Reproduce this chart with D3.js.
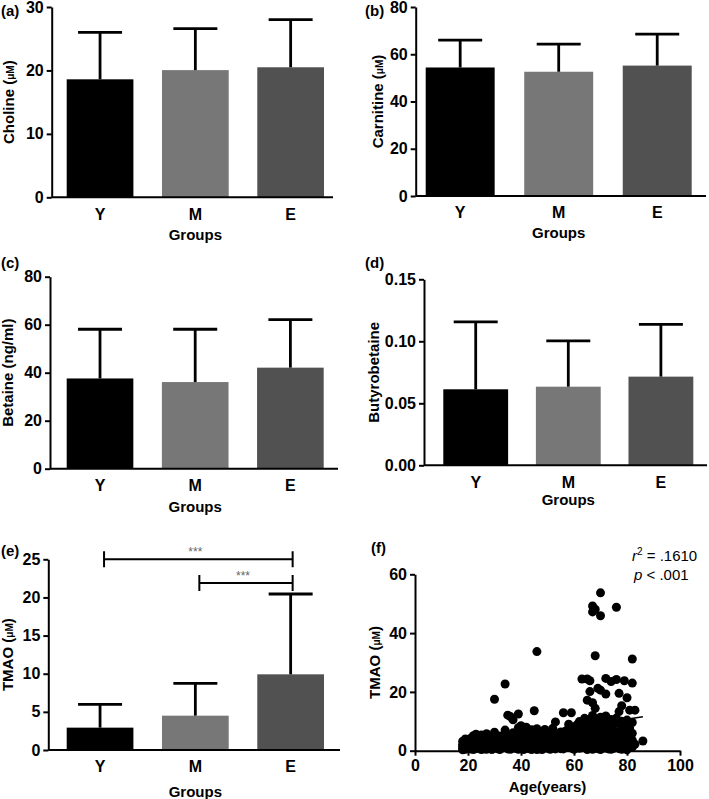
<!DOCTYPE html>
<html><head><meta charset="utf-8">
<script src="https://cdn.jsdelivr.net/npm/d3@7"></script>
<style>
body{margin:0;background:#fff}
text{font-family:Arial,"Liberation Sans",sans-serif}
</style>
</head><body>
<svg id="c" width="709" height="799"></svg>
<script>
// ---------- DATA ----------
const groups = ["Y", "M", "E"];
const barColors = ["#000000", "#777777", "#515151"];

const cholineMean = [18.6, 20.05, 20.5];
const cholineSD   = [7.4, 6.55, 7.5];
const cholineTicks = [0, 10, 20, 30];

const carnitineMean = [54.4, 52.6, 55.2];
const carnitineSD   = [11.6, 11.7, 13.3];
const carnitineTicks = [0, 20, 40, 60, 80];

const betaineMean = [37.6, 36.1, 42.1];
const betaineSD   = [20.5, 22.0, 20.0];
const betaineTicks = [0, 20, 40, 60, 80];

const butyroMean = [0.0613, 0.0634, 0.0715];
const butyroSD   = [0.0543, 0.0369, 0.0422];
const butyroTicks = [0, 0.05, 0.10, 0.15];

const tmaoMean = [2.93, 4.50, 9.92];
const tmaoSD   = [3.06, 4.24, 10.53];
const tmaoTicks = [0, 5, 10, 15, 20, 25];
const tmaoSig = [["Y", "E", 25.0, "***"], ["M", "E", 21.9, "***"]];

const ageTicks = [0, 20, 40, 60, 80, 100];
const scatterTicks = [0, 20, 40, 60];
const fitIntercept = -0.2, fitSlope = 0.137, fitAgeRange = [18, 86];
const r2Label = ".1610", pLabel = ".001";

const scatterPoints = [
 [18,0.8],[18,2.1],[18,3.2],[18,1.5],[18,0.3],[19,0.5],[19,2.6],[19,1.2],[19,4.0],[20,0.9],[20,3.8],[20,1.9],[20,2.9],
 [21,0.6],[21,2.8],[21,4.2],[21,1.5],[22,1.3],[22,5.1],[22,2.2],[22,0.4],[23,0.7],[23,3.1],[23,5.6],[23,1.7],[23,2.5],
 [24,0.9],[24,4.4],[24,2.5],[24,3.3],[25,1.2],[25,5.3],[25,3.0],[25,0.4],[26,0.6],[26,2.0],[26,3.9],[26,4.9],
 [27,1.4],[27,5.8],[27,2.9],[27,0.5],[28,0.8],[28,3.5],[28,1.9],[28,2.6],[29,4.8],[29,1.1],[29,2.4],[29,0.4],
 [30,17.5],[30,6.3],[30,1.6],[30,3.3],[31,0.7],[31,4.1],[31,2.6],[31,1.8],[32,1.3],[32,5.0],[32,3.4],[32,0.4],
 [33,0.9],[33,2.2],[33,4.6],[33,3.3],[34,22.7],[34,7.0],[34,1.8],[34,3.7],[35,12.1],[35,0.6],[35,5.2],[35,2.9],[35,1.7],
 [36,11.6],[36,1.5],[36,4.0],[36,0.5],[36,2.8],[37,10.5],[37,2.4],[37,6.1],[37,0.9],[38,0.8],[38,3.6],[38,5.5],[38,1.8],
 [39,12.5],[39,1.9],[39,7.8],[39,4.3],[39,0.5],[40,2.7],[40,0.9],[40,8.5],[40,5.0],[40,3.9],[41,3.4],[41,1.2],[41,6.6],[41,0.4],
 [42,8.0],[42,2.1],[42,4.6],[42,0.8],[43,0.7],[43,3.0],[43,5.4],[43,1.9],[44,1.6],[44,4.1],[44,7.1],[44,0.4],[44,2.9],
 [45,13.6],[45,2.5],[45,0.9],[45,6.0],[45,4.7],[46,33.7],[46,7.5],[46,3.8],[46,1.3],[46,0.4],[47,4.9],[47,2.0],[47,0.6],[47,3.4],
 [48,5.7],[48,3.1],[48,1.4],[48,0.4],[49,7.2],[49,2.6],[49,4.4],[49,1.3],[50,0.8],[50,5.9],[50,3.3],[50,2.0],
 [51,1.7],[51,4.8],[51,0.5],[51,3.0],[52,2.4],[52,7.6],[52,0.9],[52,4.6],[53,9.8],[53,3.6],[53,5.3],[53,0.6],
 [54,1.2],[54,2.8],[54,4.2],[55,6.4],[55,4.0],[55,0.7],[55,2.3],
 [56,12.9],[56,3.2],[56,0.6],[57,1.5],[57,6.8],[57,4.2],[58,9.0],[58,2.3],[58,5.8],[59,12.9],[59,4.6],[59,0.9],
 [60,7.8],[60,2.8],[60,5.5],[60,0.5],[61,1.4],[61,8.7],[61,3.9],[61,6.0],[62,6.2],[62,0.8],[62,9.9],[62,3.5],
 [63,24.4],[63,2.5],[63,5.0],[63,7.4],[63,1.0],[64,1.2],[64,9.5],[64,4.1],[64,11.0],[64,6.8],
 [65,24.4],[65,17.2],[65,6.6],[65,2.9],[65,8.8],[65,0.4],[65,4.3],
 [66,20.1],[66,23.8],[66,0.9],[66,4.8],[66,10.5],[66,7.1],[66,2.5],
 [67,49.2],[67,47.2],[67,16.3],[67,3.4],[67,9.2],[67,1.6],[67,6.0],[67,12.0],[67,0.5],[67,4.4],
 [68,48.1],[68,32.3],[68,14.4],[68,5.2],[68,8.1],[68,2.2],[68,10.9],[68,0.9],[68,3.6],
 [69,21.2],[69,0.7],[69,7.5],[69,4.0],[69,9.8],[69,2.0],[69,5.8],
 [70,53.7],[70,45.9],[70,20.6],[70,3.1],[70,11.4],[70,6.4],[70,1.3],[70,0.4],[70,4.7],
 [71,8.6],[71,5.1],[71,2.4],[71,10.2],[71,0.9],[71,6.9],
 [72,19.3],[72,24.6],[72,6.9],[72,0.9],[72,3.8],[72,11.8],[72,5.2],
 [73,9.1],[73,4.5],[73,1.7],[73,0.6],[73,6.7],[74,23.5],[74,7.3],[74,2.6],[74,10.6],[74,4.8],[74,0.5],
 [75,5.4],[75,0.8],[75,8.9],[75,3.2],[75,2.0],[76,48.8],[76,24.2],[76,6.2],[76,11.1],[76,1.9],[76,3.8],
 [77,19.5],[77,13.3],[77,4.1],[77,9.3],[77,0.7],[77,6.5],[78,15.3],[78,7.0],[78,2.7],[78,10.0],[78,0.5],[78,4.9],
 [79,23.8],[79,5.6],[79,1.1],[79,8.3],[79,3.2],[80,18.0],[80,1.4],[80,4.7],[80,10.4],[80,0.3],
 [81,13.8],[81,7.7],[81,2.9],[81,5.0],[82,31.2],[82,23.0],[82,5.9],[82,9.6],[82,1.2],[82,3.6],
 [83,13.8],[83,2.2],[86,3.3]
];

// ---------- DRAW ----------
const svg = d3.select("#c");
const FONT_TICK = 16, FONT_TITLE = 15;

function styleAxis(sel){
  sel.select(".domain").attr("stroke","#000").attr("stroke-width",2);
  sel.selectAll(".tick line").attr("stroke","#000").attr("stroke-width",2);
  sel.selectAll(".tick text").attr("font-size",FONT_TICK).attr("font-weight","bold").attr("fill","#000")
     .attr("font-family",'Arial,"Liberation Sans",sans-serif');
}

function yTitle(g, x, yc, name, unit){
  const t = g.append("text").attr("transform",`translate(${x},${yc}) rotate(-90)`)
    .attr("text-anchor","middle").attr("dy","0.35em")
    .attr("font-size",FONT_TITLE).attr("font-weight","bold");
  t.append("tspan").text(name);
  if(unit){
    t.append("tspan").text(" (");
    t.append("tspan").attr("font-size",10).text(unit);
    t.append("tspan").text(")");
  }
}

function barPanel(p){
  const g = svg.append("g");
  const x = d3.scaleBand().domain(groups).range(p.band).paddingInner(0.3).paddingOuter(0);
  const y = d3.scaleLinear().domain(p.domain).range([p.y0, p.y1]);
  const bw = x.bandwidth();

  g.selectAll("rect.bar").data(groups).join("rect").attr("class","bar")
    .attr("x", d => x(d)).attr("width", bw)
    .attr("y", (d,i) => y(p.mean[i])).attr("height", (d,i) => y(0) - y(p.mean[i]))
    .attr("fill", (d,i) => barColors[i]);

  // error bars (upper only)
  const eb = g.selectAll("g.eb").data(groups).join("g").attr("class","eb");
  eb.append("line").attr("x1", d => x(d)+bw/2).attr("x2", d => x(d)+bw/2)
    .attr("y1", (d,i) => y(p.mean[i])).attr("y2", (d,i) => y(p.mean[i]+p.sd[i]))
    .attr("stroke","#000").attr("stroke-width",2.8);
  eb.append("line").attr("x1", d => x(d)+bw/2-22).attr("x2", d => x(d)+bw/2+22)
    .attr("y1", (d,i) => y(p.mean[i]+p.sd[i])).attr("y2", (d,i) => y(p.mean[i]+p.sd[i]))
    .attr("stroke","#000").attr("stroke-width",2.8);

  // y axis
  const ya = g.append("g").attr("transform",`translate(${p.axisX},0)`)
    .call(d3.axisLeft(y).tickValues(p.ticks).tickFormat(p.fmt).tickSize(5).tickSizeOuter(0).tickPadding(3));
  styleAxis(ya);
  // x axis line
  g.append("line").attr("x1",p.axisX).attr("x2",p.xEnd).attr("y1",y(0)).attr("y2",y(0))
    .attr("stroke","#000").attr("stroke-width",2);
  const xa = g.append("g").attr("transform",`translate(0,${y(0)})`)
    .call(d3.axisBottom(x).tickSize(0).tickPadding(11));
  xa.select(".domain").remove();
  styleAxis(xa);

  yTitle(g, p.titleX, (p.y0+p.y1)/2, p.title, p.unit);
  if(p.groupsY) g.append("text").attr("x",(p.band[0]+p.band[1])/2).attr("y",p.groupsY).attr("dy","0.35em")
    .attr("text-anchor","middle").attr("font-size",FONT_TITLE).attr("font-weight","bold").text("Groups");
  g.append("text").attr("x",p.tagX).attr("y",p.tagY).attr("font-size",15).attr("font-weight","bold").text(p.tag);

  if(p.sig){
    p.sig.forEach(s => {
      const x1 = x(s[0])+bw/2+4, x2 = x(s[1])+bw/2+2, yy = y(s[2]);
      g.append("path").attr("d",`M${x1},${yy-8}V${yy+8}M${x1},${yy}H${x2}M${x2},${yy-8}V${yy+8}`)
        .attr("fill","none").attr("stroke","#000").attr("stroke-width",2);
      g.append("text").attr("x",(x1+x2)/2-3).attr("y",yy-3).attr("text-anchor","middle")
        .attr("font-size",12).attr("fill","#666").text(s[3]);
    });
  }
}

const fmtInt = d3.format("d"), fmt2 = d3.format(".2f");
barPanel({tag:"(a)", tagX:1, tagY:16, mean:cholineMean, sd:cholineSD, ticks:cholineTicks, fmt:fmtInt, domain:[0,30],
  axisX:51.7, band:[66.7,324], xEnd:333, y0:197.3, y1:7, title:"Choline", unit:"μM", titleX:8.5, groupsY:235});
barPanel({tag:"(b)", tagX:365, tagY:16, mean:carnitineMean, sd:carnitineSD, ticks:carnitineTicks, fmt:fmtInt, domain:[0,80],
  axisX:415.7, band:[425.7,691.7], xEnd:706, y0:196, y1:7, title:"Carnitine", unit:"μM", titleX:377.3, groupsY:233});
barPanel({tag:"(c)", tagX:1, tagY:268, mean:betaineMean, sd:betaineSD, ticks:betaineTicks, fmt:fmtInt, domain:[0,80],
  axisX:50, band:[66.7,323.7], xEnd:338, y0:468.7, y1:276.7, title:"Betaine (ng/ml)", unit:null, titleX:7.5, groupsY:507});
barPanel({tag:"(d)", tagX:365, tagY:268, mean:butyroMean, sd:butyroSD, ticks:butyroTicks, fmt:fmt2, domain:[0,0.15],
  axisX:424, band:[443.3,693.3], xEnd:707, y0:465.3, y1:279.3, title:"Butyrobetaine", unit:null, titleX:374, groupsY:500});
barPanel({tag:"(e)", tagX:1, tagY:556, mean:tmaoMean, sd:tmaoSD, ticks:tmaoTicks, fmt:fmtInt, domain:[0,25],
  axisX:48.3, band:[66.7,324], xEnd:340, y0:750, y1:559.3, title:"TMAO", unit:"μM", titleX:7.5, groupsY:791.5, sig:tmaoSig});

// scatter panel (f)
(function(){
  const g = svg.append("g");
  const x = d3.scaleLinear().domain([0,100]).range([415,680]);
  const y = d3.scaleLinear().domain([0,60]).range([750.7,574.3]);
  g.selectAll("circle").data(scatterPoints).join("circle")
    .attr("cx", d => x(d[0])).attr("cy", d => y(d[1])).attr("r", 4.5).attr("fill","#000");
  g.append("line").attr("x1",x(fitAgeRange[0])).attr("x2",x(fitAgeRange[1]))
    .attr("y1",y(fitIntercept+fitSlope*fitAgeRange[0])).attr("y2",y(fitIntercept+fitSlope*fitAgeRange[1]))
    .attr("stroke","#000").attr("stroke-width",1.5);
  const ya = g.append("g").attr("transform",`translate(${x(0)},0)`)
    .call(d3.axisLeft(y).tickValues(scatterTicks).tickFormat(fmtInt).tickSize(5).tickSizeOuter(0).tickPadding(3));
  styleAxis(ya);
  const xa = g.append("g").attr("transform",`translate(0,${y(0)})`)
    .call(d3.axisBottom(x).tickValues(ageTicks).tickFormat(fmtInt).tickSize(5).tickSizeOuter(0).tickPadding(4));
  styleAxis(xa);
  yTitle(g, 374.7, (y(0)+y(60))/2, "TMAO", "μM");
  g.append("text").attr("x",(x(0)+x(100))/2).attr("y",786.5).attr("dy","0.35em").attr("text-anchor","middle")
    .attr("font-size",FONT_TITLE).attr("font-weight","bold").text("Age(years)");
  g.append("text").attr("x",371).attr("y",553).attr("font-size",15).attr("font-weight","bold").text("(f)");
  const t1 = g.append("text").attr("x",632).attr("y",561).attr("font-size",15);
  t1.append("tspan").attr("font-style","italic").text("r");
  t1.append("tspan").attr("font-size",10).attr("dy",-6).text("2");
  t1.append("tspan").attr("dy",6).text(" = " + r2Label);
  const t2 = g.append("text").attr("x",634).attr("y",580).attr("font-size",15);
  t2.append("tspan").attr("font-style","italic").text("p");
  t2.append("tspan").text(" < " + pLabel);
})();
</script>
</body></html>
